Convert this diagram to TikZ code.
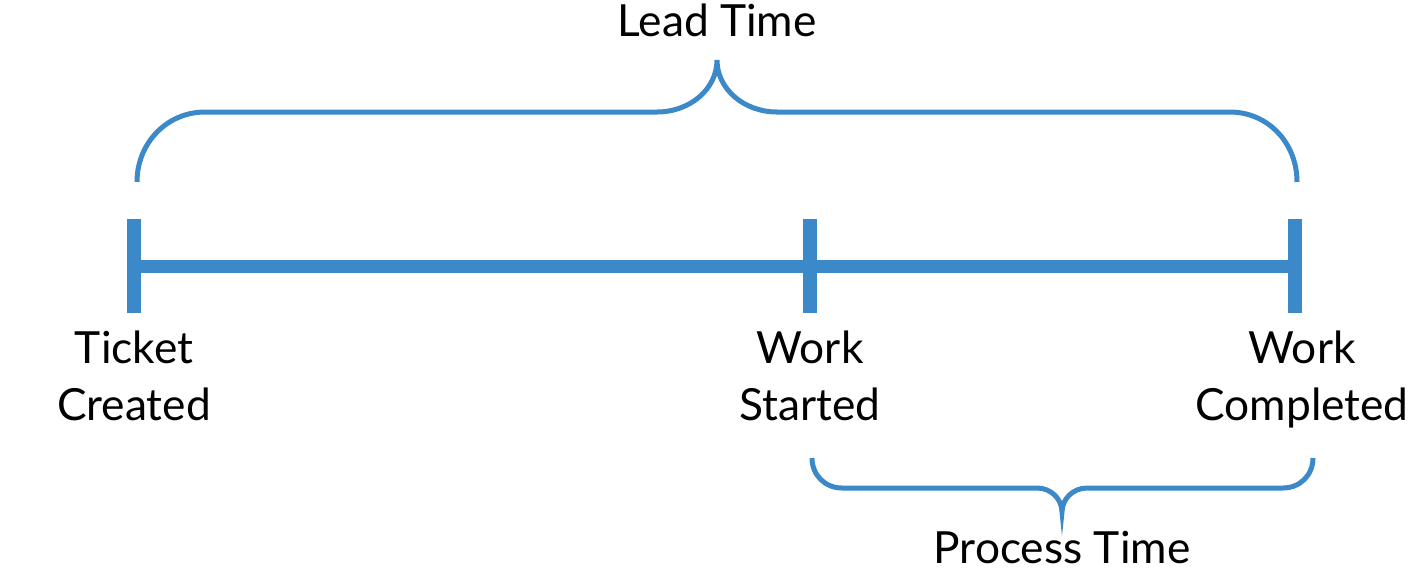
\documentclass[tikz,border=0pt]{standalone}
\usepackage{fontspec}
\setmainfont{Lato}
\usepackage{tikz}
\usetikzlibrary{positioning}
\definecolor{leadblue}{RGB}{59,137,201}

\begin{document}
\begin{tikzpicture}[x=0.02cm, y=-0.02cm,
    lbl/.style={font=\fontsize{25.2}{32.3}\selectfont, align=center, inner sep=0pt},
    brace/.style={draw=leadblue, line width=2.85pt}]
\useasboundingbox (0,0) rectangle (1414,576);
\def\Y{266}
\def\H{47}

% timeline
\coordinate (ticket) at (134,\Y);
\coordinate (started) at (810,\Y);
\coordinate (done) at (1295,\Y);

\draw[leadblue, line width=7.4pt] (ticket) -- (done);

\foreach \c in {ticket,started,done} {
    \draw[leadblue, line width=7.9pt] (\c) ++(0,-\H) -- ++(0,2*\H);
}

\node[lbl, below=1.3cm of ticket] (ticketlbl) {Ticket\\Created};
\node[lbl, below=1.3cm of started] (startedlbl) {Work\\Started};
\node[lbl, below=1.3cm of done, xshift=4pt] (donelbl) {Work\\Completed};

% lead time brace
\coordinate (leadtip) at (717,60);
\draw[brace] (137,182) .. controls (137,143) and (167,112) .. (205,112)
    -- (657,112) .. controls (690,112) and (717,89) .. (leadtip)
    .. controls (717,89) and (744,112) .. (777,112)
    -- (1230,112) .. controls (1267,112) and (1297,142) .. (1297,182);
\node[lbl, above=0.46cm of leadtip] (lead) {Lead Time};

% process time brace
\coordinate (proctip) at (1062,512);
\draw[brace] (812,458) .. controls (812,475) and (825,488) .. (842,488)
    -- (1037,488) .. controls (1051,488) and (1062,499) .. (proctip)
    .. controls (1062,499) and (1073,488) .. (1087,488)
    -- (1283,488) .. controls (1300,488) and (1313,475) .. (1313,458);
\node[lbl, below=0.38cm of proctip] (proc) {Process Time};
\end{tikzpicture}
\end{document}
